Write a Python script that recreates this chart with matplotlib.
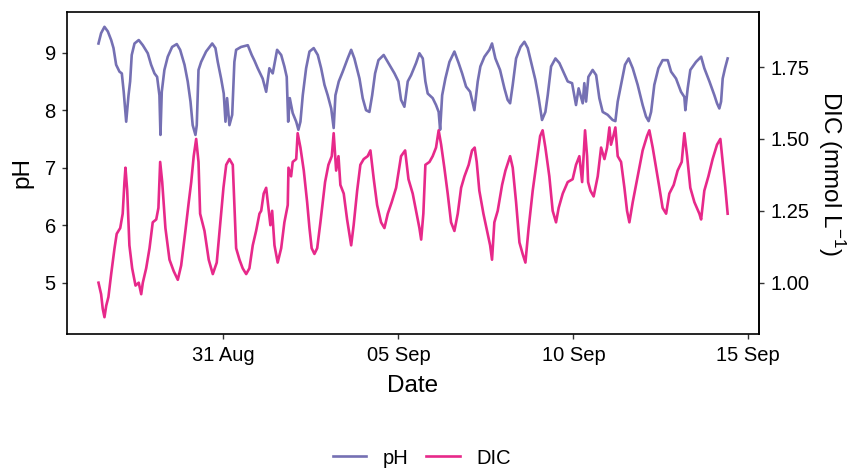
import matplotlib
matplotlib.use("Agg")
import matplotlib.pyplot as plt
import matplotlib.dates as mdates
import pandas as pd

# hours after 27 Aug 00:00
ph_hours = [10.3, 12.1, 14.4, 16.7, 19.0, 20.6, 22.4, 24.7, 26.3, 27.6, 29.3, 30.9, 32.0, 33.1, 35.0,
            37.9, 40.7, 44.1, 46.4, 48.7, 50.5, 52.1, 52.8, 53.7, 55.5, 57.8, 60.8, 64.0, 66.3, 69.3,
            71.5, 73.4, 74.9, 76.8, 77.7, 78.9, 80.7, 84.1, 88.3, 90.5, 92.1, 94.4, 96.2, 97.4, 98.5,
            100.1, 102.0, 103.5, 104.7, 108.1, 112.7, 115.4, 117.3, 119.5, 122.9, 125.3, 127.5, 129.8,
            132.8, 135.6, 137.8, 139.4, 140.4, 141.5, 143.5, 145.9, 147.4, 148.8, 150.4, 152.7, 155.0,
            157.9, 160.7, 163.0, 165.3, 167.5, 169.9, 171.6, 172.8, 175.1, 177.8, 181.2, 183.6, 185.8,
            189.3, 191.5, 193.8, 196.1, 198.0, 200.0, 202.3, 205.9, 209.8, 213.3, 216.0, 217.8, 220.1,
            222.4, 224.7, 228.1, 230.4, 232.7, 234.5, 236.1, 239.5, 241.8, 243.6, 244.6, 246.0, 248.2,
            251.0, 254.4, 257.3, 259.7, 262.4, 265.2, 268.1, 270.4, 272.2, 275.0, 278.4, 280.2, 282.5,
            285.7, 288.7, 290.9, 292.6, 294.4, 296.7, 299.7, 302.4, 304.7, 307.0, 309.9, 312.2, 314.5,
            316.8, 318.4, 320.7, 323.7, 326.4, 329.1, 332.1, 335.1, 337.8, 339.6, 342.4, 343.5, 344.7,
            346.3, 349.2, 351.6, 353.8, 356.1, 359.5, 362.9, 364.8, 366.4, 368.7, 371.4, 373.9, 376.7,
            380.1, 383.5, 385.8, 387.6, 389.3, 391.5, 394.3, 397.2, 400.7, 403.0, 406.4, 409.8, 412.1,
            412.8, 414.4, 416.2, 420.1, 423.6, 425.8, 429.3, 432.7, 434.5, 436.1, 437.3, 438.4, 440.0,
            441.8]
ph = [9.16, 9.34, 9.45, 9.37, 9.22, 9.08, 8.79, 8.67, 8.64, 8.32, 7.80, 8.26, 8.50, 8.96, 9.16,
      9.22, 9.13, 8.99, 8.79, 8.64, 8.58, 8.26, 7.57, 8.32, 8.70, 8.93, 9.10, 9.15, 9.05, 8.79,
      8.50, 8.15, 7.74, 7.57, 7.74, 8.70, 8.84, 9.02, 9.16, 9.08, 8.84, 8.55, 8.29, 7.80, 8.21,
      7.74, 7.92, 8.84, 9.05, 9.10, 9.13, 8.96, 8.86, 8.73, 8.55, 8.32, 8.73, 8.64,
      9.05, 8.96, 8.76, 8.58, 7.80, 8.21, 7.95, 7.80, 7.66, 7.80, 8.26, 8.73, 9.02,
      9.08, 8.96, 8.73, 8.44, 8.26, 8.03, 7.69, 8.26, 8.50, 8.67, 8.90, 9.05, 8.90,
      8.55, 8.21, 8.00, 7.97, 8.26, 8.64, 8.87, 8.96, 8.79, 8.64, 8.50, 8.18, 8.06,
      8.50, 8.61, 8.82, 8.99, 8.90, 8.50, 8.29, 8.21, 8.09, 7.97, 7.66, 8.26, 8.55,
      8.84, 9.02, 8.82, 8.64, 8.41, 8.32, 8.00, 8.50, 8.76, 8.93, 9.05, 9.16, 8.90,
      8.70, 8.38, 8.18, 8.12, 8.44, 8.90, 9.10, 9.19, 9.08, 8.84, 8.53, 8.21, 7.83,
      7.97, 8.26, 8.76, 8.90, 8.82, 8.67, 8.50, 8.47, 8.09, 8.38, 8.12, 8.47, 8.15,
      8.58, 8.70, 8.61, 8.21, 7.97, 7.92, 7.83, 7.81, 8.15, 8.44, 8.79, 8.90, 8.73,
      8.44, 8.09, 7.89, 7.81, 7.97, 8.44, 8.73, 8.87, 8.87, 8.67, 8.55, 8.32, 8.23,
      8.00, 8.38, 8.70, 8.84, 8.93, 8.73, 8.50, 8.26, 8.12, 8.03, 8.15, 8.55, 8.73,
      8.90]

dic_hours = [10.3, 12.1, 13.2, 14.4, 15.6, 17.1, 19.0, 21.3, 22.8, 25.2, 26.9, 28.1, 28.8, 30.0, 31.5,
             33.4, 35.7, 37.9, 39.6, 40.7, 43.0, 45.3, 47.5, 49.9, 51.4, 52.6, 54.0, 56.2, 59.0, 61.9,
             64.7, 67.0, 69.9, 72.2, 73.9, 75.6, 77.3, 78.9, 80.0, 83.0, 85.9, 88.7, 91.4, 93.9, 96.0,
             97.9, 100.1, 102.4, 104.7, 107.0, 109.2, 111.6, 113.8, 116.1, 118.4, 120.7, 121.9, 123.6,
             125.3, 126.9, 128.2, 129.4, 131.0, 133.2, 135.6, 137.8, 140.1, 140.6, 142.4, 143.5, 145.9,
             146.9, 148.8, 151.1, 153.4, 155.0, 156.5, 158.4, 160.3, 162.5, 164.1, 165.7, 168.0, 170.3,
             171.6, 173.3, 174.9, 176.2, 178.5, 180.8, 183.6, 185.3, 187.7, 189.9, 192.2, 194.9, 196.8,
             199.1, 201.4, 204.1, 206.4, 208.7, 211.4, 214.4, 217.8, 220.6, 222.9, 225.8, 228.1, 230.4,
             231.6, 233.1, 234.5, 237.3, 239.5, 241.8, 243.6, 245.3, 247.5, 249.8, 252.1, 254.4, 256.7,
             259.0, 261.3, 264.2, 266.5, 268.3, 269.7, 271.5, 274.3, 277.2, 278.9, 280.2, 281.8, 284.1,
             287.1, 289.4, 292.6, 294.4, 296.7, 299.0, 301.2, 303.1, 305.3, 308.1, 310.8, 313.2, 314.9,
             316.8, 319.5, 321.8, 324.1, 325.9, 328.7, 332.1, 335.5, 337.8, 340.1, 342.0, 344.0, 345.4,
             346.1, 347.7, 349.9, 352.7, 355.0, 357.3, 359.1, 360.7, 361.8, 363.4, 364.8, 366.4, 368.7,
             371.0, 372.8, 374.4, 376.7, 380.1, 383.5, 386.5, 388.1, 390.4, 392.7, 395.0, 397.2, 399.6,
             401.8, 404.8, 407.5, 410.3, 412.1, 414.0, 416.2, 419.0, 422.4, 423.6, 425.8, 428.6, 431.5,
             434.5, 436.8, 438.4, 440.2, 441.8]
dic = [1.00, 0.96, 0.91, 0.88, 0.92, 0.95, 1.03, 1.12, 1.17, 1.19, 1.24, 1.35, 1.40, 1.32, 1.13,
       1.05, 0.99, 1.00, 0.96, 1.00, 1.05, 1.12, 1.21, 1.22, 1.26, 1.42, 1.35, 1.19, 1.08, 1.04,
       1.01, 1.06, 1.18, 1.28, 1.35, 1.44, 1.50, 1.42, 1.24, 1.18, 1.08, 1.03, 1.07, 1.21, 1.33,
       1.41, 1.43, 1.41, 1.12, 1.08, 1.05, 1.03, 1.05, 1.13, 1.18, 1.24, 1.25, 1.31,
       1.33, 1.26, 1.20, 1.25, 1.13, 1.07, 1.12, 1.21, 1.27, 1.40, 1.37, 1.42, 1.43,
       1.52, 1.47, 1.39, 1.28, 1.19, 1.12, 1.10, 1.12, 1.21, 1.28, 1.35, 1.41, 1.44,
       1.52, 1.39, 1.44, 1.34, 1.31, 1.22, 1.13, 1.20, 1.32, 1.41, 1.43, 1.44, 1.46,
       1.36, 1.27, 1.21, 1.19, 1.24, 1.28, 1.33, 1.44, 1.46, 1.36, 1.31, 1.25, 1.19,
       1.15, 1.24, 1.41, 1.42, 1.44, 1.47, 1.53, 1.48, 1.40, 1.31, 1.21, 1.18, 1.24,
       1.33, 1.37, 1.41, 1.46, 1.47, 1.42, 1.32, 1.24, 1.17, 1.13, 1.08, 1.21, 1.25,
       1.34, 1.39, 1.44, 1.40, 1.28, 1.14, 1.10, 1.07, 1.19, 1.32, 1.42, 1.51, 1.53,
       1.47, 1.37, 1.25, 1.21, 1.26, 1.31, 1.35, 1.36, 1.41, 1.44, 1.35, 1.53, 1.44,
       1.35, 1.32, 1.30, 1.37, 1.47, 1.43, 1.47, 1.54, 1.48, 1.51, 1.54, 1.44, 1.42,
       1.33, 1.25, 1.21, 1.28, 1.37, 1.46, 1.51, 1.53, 1.47, 1.40, 1.33, 1.26, 1.24,
       1.31, 1.34, 1.39, 1.42, 1.52, 1.44, 1.33, 1.28, 1.24, 1.22, 1.32, 1.37, 1.43,
       1.48, 1.50, 1.42, 1.33, 1.24]

start = pd.Timestamp("2021-08-27")
ph_time = start + pd.to_timedelta(ph_hours, unit="h")
dic_time = start + pd.to_timedelta(dic_hours, unit="h")

scale = 5  # DIC is drawn on the pH axis as DIC * 5

plt.rcParams["font.family"] = ["Liberation Sans", "DejaVu Sans"]
plt.rcParams["mathtext.fontset"] = "custom"
plt.rcParams["mathtext.rm"] = "Liberation Sans"

fig = plt.figure(figsize=(8.57, 4.70), dpi=100)
ax = fig.add_axes([0.0782, 0.2894, 0.8075, 0.6851])

ph_col = "#7570B3"
dic_col = "#E7298A"
ax.plot(ph_time, ph, color=ph_col, lw=1.9, label="pH")
ax.plot(dic_time, [d * scale for d in dic], color=dic_col, lw=1.9, label="DIC")

ax.set_ylim(4.108, 9.708)
ax.set_xlim(pd.Timestamp("2021-08-26 12:43"), pd.Timestamp("2021-09-15 07:20"))
ax.set_yticks([5, 6, 7, 8, 9])
ax.xaxis.set_major_locator(mdates.DayLocator(bymonthday=[5, 10, 15, 31]))
ax.xaxis.set_major_formatter(mdates.DateFormatter("%d %b"))

for s in ax.spines.values():
    s.set_linewidth(1.2)
    s.set_color("black")
ax.tick_params(direction="out", length=3.6, width=1, color="#333333",
               labelsize=14.5, labelcolor="black")
ax.tick_params(axis="x", pad=5)
ax.tick_params(axis="y", pad=4.5)

sec = ax.secondary_yaxis("right", functions=(lambda v: v / scale, lambda v: v * scale))
sec.set_yticks([1.00, 1.25, 1.50, 1.75])
sec.set_yticklabels(["1.00", "1.25", "1.50", "1.75"])
sec.tick_params(direction="out", length=3.6, width=1, color="#333333",
                labelsize=14.5, labelcolor="black", pad=4.5)
sec.spines["right"].set_linewidth(1.2)

# right-hand axis title, placed beside the tick labels
fig.text(0.9705, 0.2894 + 0.6851 / 2, "DIC (mmol L$^{-1}$)", fontsize=17.5,
         rotation=270, ha="center", va="center")

ax.set_xlabel("Date", fontsize=17.5, labelpad=7)
ax.set_ylabel("pH", fontsize=17.5, labelpad=8)

fig.legend(loc="center", bbox_to_anchor=(0.4925, 0.0255), ncol=2, frameon=False,
           fontsize=14.5, handlelength=1.64, handletextpad=0.83, columnspacing=0.88)

fig.savefig("out.png", dpi=100)
